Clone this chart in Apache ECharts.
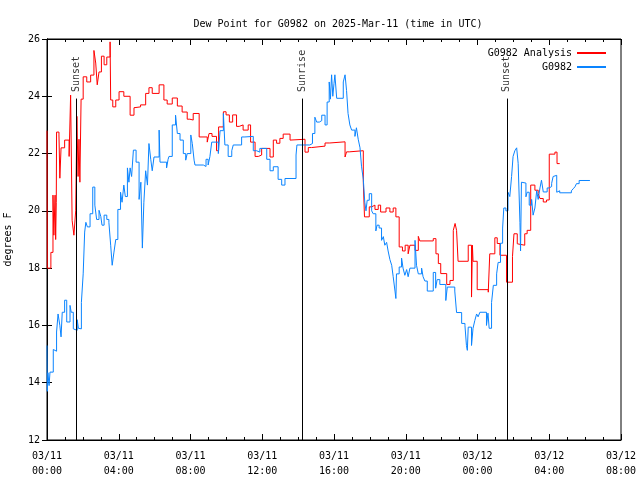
<!DOCTYPE html>
<html>
<head>
<meta charset="utf-8">
<script src="https://cdn.jsdelivr.net/npm/echarts@6/dist/echarts.min.js"></script>
<style>html,body{margin:0;padding:0;background:#fff}#c{width:640px;height:480px}</style>
</head>
<body>
<div id="c"></div>
<script>
// Time in minutes since 03/11 00:00 UTC
const xTickLabels = ['03/11\n00:00','03/11\n04:00','03/11\n08:00','03/11\n12:00','03/11\n16:00','03/11\n20:00','03/12\n00:00','03/12\n04:00','03/12\n08:00'];
const yTicks = [12,14,16,18,20,22,24,26];

const eventNames = ['Sunset','Sunrise','Sunset'];
const eventT = [97, 853, 1538];

const analysisT = [0,1,13,20,23,27,29,31,32,40,43,47,59,74,79,84,90,96,100,104,107,110,114,121,133,146,157,163,168,174,182,191,200,211,213,220,230,241,257,278,291,297,313,330,341,352,375,391,402,419,436,452,469,478,489,509,536,542,552,567,574,590,599,610,621,634,643,656,673,681,696,707,718,746,757,768,779,790,813,818,863,874,885,930,946,997,1002,1011,1058,1062,1078,1086,1097,1108,1116,1134,1147,1158,1167,1178,1189,1198,1208,1214,1231,1242,1247,1292,1301,1309,1317,1337,1348,1359,1365,1370,1375,1409,1420,1423,1425,1439,1476,1481,1498,1506,1515,1537,1557,1562,1573,1579,1598,1606,1618,1632,1643,1649,1660,1671,1680,1699,1706,1715];
const analysisV = [22.8,18.0,18.55,20.55,19.15,20.55,19.0,20.3,22.75,22.65,21.14,22.2,22.47,21.9,24.04,19.67,19.15,20.0,23.3,21.2,22.5,21.0,23.9,24.68,24.5,24.74,25.6,25.16,24.4,24.85,25.4,25.1,25.37,25.9,23.87,23.63,23.87,24.16,24.0,23.34,23.6,23.63,23.7,24.1,24.3,24.1,24.4,23.87,23.73,23.94,23.66,23.45,23.2,23.17,23.4,22.58,22.4,22.7,22.6,22.1,22.93,23.46,23.35,23.1,23.35,22.95,23.0,22.82,23.0,22.4,21.9,21.95,22.18,21.88,22.47,22.36,22.53,22.68,22.47,22.5,22.05,22.21,22.26,22.37,22.41,21.88,22.06,22.1,21.0,19.79,20.14,20.2,20.05,20.2,19.96,20.1,19.96,20.1,19.79,18.74,18.6,18.8,18.5,18.8,18.62,19.11,18.95,19.03,18.5,18.16,17.81,17.43,17.57,19.32,19.56,19.32,18.24,18.8,16.99,18.8,18.24,17.25,17.16,18.5,19.06,18.86,18.45,17.51,18.4,19.2,18.85,18.8,19.2,19.32,20.9,20.72,20.6,20.43,20.31,20.38,21.98,22.05,21.65,21.65];

const stationT = [0,1,3,7,10,21,26,32,37,43,47,51,59,66,77,81,88,93,101,105,110,115,121,126,130,135,144,153,160,166,174,180,184,191,200,207,213,218,224,230,237,246,251,257,262,269,274,278,283,289,298,308,314,319,324,330,336,341,347,352,358,375,378,400,405,408,419,430,436,445,456,464,469,481,486,492,495,523,532,539,545,551,573,579,590,595,606,618,623,651,662,690,701,712,735,746,757,773,785,796,833,836,879,888,896,902,911,919,930,937,944,948,952,956,960,963,969,991,997,1002,1007,1013,1019,1030,1035,1041,1047,1052,1058,1063,1067,1071,1078,1086,1091,1100,1104,1111,1119,1125,1130,1136,1141,1147,1153,1158,1164,1167,1169,1178,1186,1191,1197,1203,1208,1214,1231,1236,1242,1253,1258,1264,1272,1292,1300,1305,1314,1334,1339,1364,1370,1387,1398,1403,1406,1409,1420,1425,1431,1437,1442,1448,1470,1475,1479,1487,1493,1504,1509,1517,1524,1528,1535,1542,1548,1554,1559,1565,1571,1576,1582,1584,1587,1593,1602,1606,1613,1621,1626,1632,1638,1643,1649,1654,1660,1673,1680,1688,1693,1699,1705,1710,1715,1754,1760,1766,1771,1780,1816];
const stationV = [15.3,13.7,14.35,13.9,14.37,15.16,15.1,15.77,16.4,16.0,15.6,16.46,16.88,16.12,16.7,16.46,15.88,15.83,16.2,15.9,15.88,16.8,17.8,19.26,19.6,19.44,19.9,20.83,20.2,19.7,20.02,19.8,19.5,19.85,19.7,19.6,18.8,18.1,18.56,19.0,20.05,20.65,20.3,20.9,20.5,21.5,21.0,21.5,21.2,22.12,21.7,20.4,21.0,18.7,20.3,21.4,20.9,22.35,21.8,21.4,21.88,22.82,21.7,21.5,21.8,21.9,23.0,23.34,22.7,22.47,22.0,21.77,22.0,22.65,22.35,21.77,21.6,21.55,21.8,21.6,21.9,22.4,22.0,22.8,23.4,22.3,21.9,22.1,22.3,22.58,22.6,22.1,22.05,22.18,21.8,21.4,21.54,21.1,20.9,21.13,21.95,22.3,22.35,22.7,23.27,23.1,23.15,23.34,23.0,23.8,24.5,23.9,24.75,24.0,24.45,24.75,23.93,24.5,24.75,24.2,23.4,23.0,22.82,22.6,22.9,22.5,22.2,21.56,21.1,20.3,20.0,20.37,20.6,20.0,19.9,19.3,19.5,19.4,18.97,19.1,18.8,18.9,18.6,18.3,18.1,17.7,17.2,16.94,17.8,18.04,18.35,18.0,17.75,17.95,17.7,18.0,18.97,18.1,17.8,18.0,17.7,17.55,17.2,17.85,17.3,17.6,17.43,16.87,17.34,17.2,16.45,16.07,16.0,15.3,15.13,15.94,15.3,15.9,16.17,16.4,16.3,16.46,16.0,16.43,15.9,16.8,17.4,17.8,18.2,18.87,19.4,20.1,20.0,20.65,20.5,21.2,21.9,22.1,22.2,21.66,19.6,18.6,21.0,20.97,20.49,20.65,20.2,20.4,19.85,20.1,20.7,20.4,20.8,21.07,20.66,20.8,20.85,20.96,21.2,21.24,20.65,20.7,20.63,20.7,20.77,20.84,20.95,21.06,21.06];

const FONT = 'DejaVu Sans Mono';
const zip = (t, v) => t.map((x, i) => [x, v[i]]);

const chart = echarts.init(document.getElementById('c'), null, {renderer: 'canvas'});

const xBase = {
  type: 'value', min: 0, max: 1920, interval: 240,
  axisLine: {show: true, lineStyle: {color: '#000', width: 1}},
  axisTick: {show: true, inside: true, length: 6, lineStyle: {color: '#000'}},
  minorTick: {show: true, splitNumber: 4, length: 3, lineStyle: {color: '#000'}},
  splitLine: {show: false}, minorSplitLine: {show: false}
};
const yBase = {
  type: 'value', min: 12, max: 26, interval: 2,
  axisLine: {show: true, lineStyle: {color: '#000', width: 1}},
  axisTick: {show: true, inside: true, length: 5, lineStyle: {color: '#000'}},
  splitLine: {show: false}
};

chart.setOption({
  animation: false,
  backgroundColor: '#fff',
  title: {
    text: 'Dew Point for G0982 on 2025-Mar-11 (time in UTC)',
    left: 333, top: 14, textAlign: 'center',
    textStyle: {fontFamily: FONT, fontSize: 10, fontWeight: 'normal', color: '#000'}
  },
  legend: {
    orient: 'vertical', right: 29, top: 43, align: 'right',
    itemWidth: 29, itemHeight: 2, itemGap: 4, icon: 'rect',
    data: ['G0982 Analysis', 'G0982'],
    textStyle: {fontFamily: FONT, fontSize: 10, color: '#000'}
  },
  grid: {left: 47, right: 19, top: 39, bottom: 40, containLabel: false, outerBoundsMode: 'none',
    show: true, borderColor: '#000', borderWidth: 1, backgroundColor: 'transparent'},
  xAxis: [
    Object.assign({}, xBase, {
      position: 'bottom',
      axisLabel: {
        margin: 9, lineHeight: 15, fontFamily: FONT, fontSize: 10, color: '#000',
        formatter: v => xTickLabels[Math.round(v / 240)]
      }
    }),
    Object.assign({}, xBase, {position: 'top', axisLabel: {show: false}})
  ],
  yAxis: [
    Object.assign({}, yBase, {
      position: 'left',
      name: 'degrees F', nameLocation: 'middle', nameGap: 34, nameRotate: 90,
      nameTextStyle: {fontFamily: FONT, fontSize: 10, color: '#000'},
      axisLabel: {margin: 7, fontFamily: FONT, fontSize: 10, color: '#000',
        formatter: v => String(yTicks[yTicks.indexOf(v)])}
    }),
    Object.assign({}, yBase, {position: 'right', axisLabel: {show: false}})
  ],
  series: [
    {
      name: 'events', type: 'scatter', symbolSize: 0, silent: true,
      data: eventT.map((t, i) => ({value: [t, 24.15], name: eventNames[i]})),
      label: {
        show: true, position: 'inside', rotate: 90, align: 'left', verticalAlign: 'middle',
        formatter: p => p.name, fontFamily: FONT, fontSize: 10, color: '#000'
      },
      markLine: {
        silent: true, symbol: 'none', animation: false,
        label: {show: false},
        lineStyle: {color: '#000', width: 1, type: 'solid'},
        data: eventT.map(t => [{coord: [t, 12]}, {coord: [t, 23.92]}])
      },
      z: 1
    },
    {
      name: 'G0982 Analysis', type: 'line', step: 'end', showSymbol: false, symbol: 'none',
      data: zip(analysisT, analysisV),
      lineStyle: {color: '#ff0000', width: 1}, itemStyle: {color: '#ff0000'}, z: 2
    },
    {
      name: 'G0982', type: 'line', step: 'end', showSymbol: false, symbol: 'none',
      data: zip(stationT, stationV),
      lineStyle: {color: '#0a84ff', width: 1}, itemStyle: {color: '#0a84ff'}, z: 3
    }
  ]
});
</script>
</body>
</html>
